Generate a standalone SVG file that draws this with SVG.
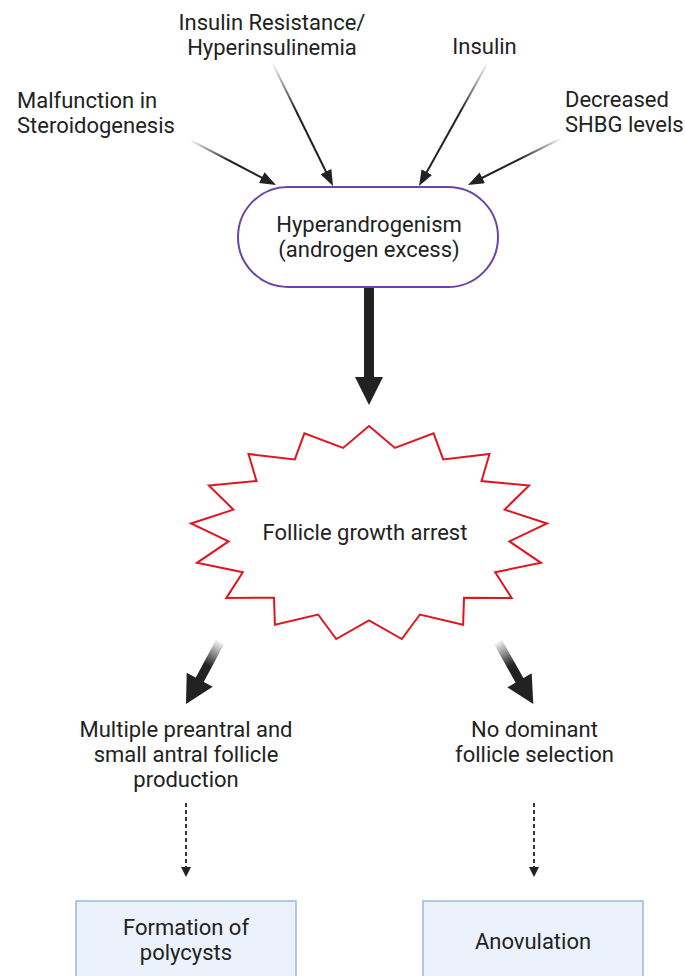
<svg xmlns="http://www.w3.org/2000/svg" width="685" height="976" viewBox="0 0 685 976">
<style>
text{font-family:Roboto,"Liberation Sans",Arial,sans-serif;font-size:22px;fill:#222}
.c{text-anchor:middle}
.thin{stroke-width:2;fill:none}
.head{fill:#222}
</style>
<defs>
<marker id="ah" markerUnits="userSpaceOnUse" viewBox="0 0 16 12" markerWidth="16" markerHeight="12" refX="6" refY="6" orient="auto"><path d="M0,0 L16,6 L0,12 z" fill="#222"/></marker>
<marker id="ahs" markerUnits="userSpaceOnUse" viewBox="0 0 10 10" markerWidth="10" markerHeight="10" refX="3" refY="5" orient="auto"><path d="M0,0 L10,5 L0,10 z" fill="#222"/></marker>
<linearGradient id="g1" gradientUnits="userSpaceOnUse" x1="190" y1="140" x2="276" y2="185"><stop offset="0" stop-color="#222" stop-opacity="0"/><stop offset="0.45" stop-color="#222"/></linearGradient>
<linearGradient id="g2" gradientUnits="userSpaceOnUse" x1="272" y1="62" x2="333" y2="186"><stop offset="0" stop-color="#222" stop-opacity="0"/><stop offset="0.4" stop-color="#222"/></linearGradient>
<linearGradient id="g3" gradientUnits="userSpaceOnUse" x1="488" y1="62" x2="419" y2="186"><stop offset="0" stop-color="#222" stop-opacity="0"/><stop offset="0.4" stop-color="#222"/></linearGradient>
<linearGradient id="g4" gradientUnits="userSpaceOnUse" x1="562" y1="138" x2="468" y2="185"><stop offset="0" stop-color="#222" stop-opacity="0"/><stop offset="0.45" stop-color="#222"/></linearGradient>
<linearGradient id="g5" gradientUnits="userSpaceOnUse" x1="220" y1="642" x2="199" y2="681"><stop offset="0" stop-color="#222" stop-opacity="0.05"/><stop offset="0.6" stop-color="#222"/></linearGradient>
<linearGradient id="g6" gradientUnits="userSpaceOnUse" x1="498" y1="642" x2="520" y2="681"><stop offset="0" stop-color="#222" stop-opacity="0.05"/><stop offset="0.6" stop-color="#222"/></linearGradient>
</defs>

<g id="connectors">
<line x1="190" y1="140" x2="267.1" y2="180.4" stroke="url(#g1)" class="thin" marker-end="url(#ah)"/>
<line x1="272" y1="62" x2="328.6" y2="177" stroke="url(#g2)" class="thin" marker-end="url(#ah)"/>
<line x1="488" y1="62" x2="423.9" y2="177.3" stroke="url(#g3)" class="thin" marker-end="url(#ah)"/>
<line x1="562" y1="138" x2="476.9" y2="180.5" stroke="url(#g4)" class="thin" marker-end="url(#ah)"/>
<rect x="364" y="286" width="10" height="93" fill="#222"/>
<polygon class="head" points="355,377 383,377 369,405"/>
<line x1="220" y1="642" x2="198" y2="683" stroke="url(#g5)" stroke-width="9"/>
<polygon class="head" points="186,704 186.7,672.7 212.7,686.7"/>
<line x1="498" y1="642" x2="521" y2="683" stroke="url(#g6)" stroke-width="9"/>
<polygon class="head" points="533.3,704 507.3,687.3 531.7,673.3"/>
<line x1="186" y1="803" x2="186" y2="870" stroke="#222" stroke-width="1.8" stroke-dasharray="4 3" marker-end="url(#ahs)"/>
<line x1="534" y1="803" x2="534" y2="870" stroke="#222" stroke-width="1.8" stroke-dasharray="4 3" marker-end="url(#ahs)"/>
</g>

<g id="label-malfunction"><text x="17" y="108">Malfunction in</text><text x="17" y="132.5">Steroidogenesis</text></g>
<g id="label-insulin-resistance"><text class="c" x="272" y="30">Insulin Resistance/</text><text class="c" x="272" y="55">Hyperinsulinemia</text></g>
<g id="label-insulin"><text class="c" x="484.5" y="54">Insulin</text></g>
<g id="label-shbg"><text x="565" y="106.5">Decreased</text><text x="565" y="131.5">SHBG levels</text></g>

<g id="node-hyperandrogenism">
<rect x="238" y="187" width="260" height="100" rx="50" fill="#fff" stroke="#6b45a3" stroke-width="2"/>
<text class="c" x="369" y="232">Hyperandrogenism</text>
<text class="c" x="369" y="257">(androgen excess)</text>
</g>

<g id="node-follicle-arrest">
<polygon fill="#fff" stroke="#e0161e" stroke-width="2" stroke-linejoin="miter" points="369,426 394.9,447.9 433.6,433.3 443.2,459.4 489.5,454 481.5,481 529.1,485.5 504.6,509.6 547,523.5 509.4,541.4 541,562.8 495.2,572.2 511.7,598.1 464,597.7 463.1,624.7 419.9,614.5 401.8,639 369,620.4 336.2,639 318.1,614.5 274.9,624.7 274,597.7 226.3,598.1 242.8,572.2 197,562.8 228.6,541.4 191,523.5 233.4,509.6 208.9,485.5 256.5,481 248.5,454 294.8,459.4 304.4,433.3 343.1,447.9"/>
<text class="c" x="365" y="540">Follicle growth arrest</text>
</g>

<g id="node-multiple"><text class="c" x="186" y="737">Multiple preantral and</text><text class="c" x="186" y="762">small antral follicle</text><text class="c" x="186" y="787">production</text></g>
<g id="node-no-dominant"><text class="c" x="534.5" y="737">No dominant</text><text class="c" x="534.5" y="762">follicle selection</text></g>

<g id="node-polycysts">
<rect x="76" y="901" width="220" height="95" fill="#ecf2fb" stroke="#9db6dc" stroke-width="1.5"/>
<text class="c" x="186" y="935">Formation of</text>
<text class="c" x="186" y="960">polycysts</text>
</g>
<g id="node-anovulation">
<rect x="423" y="901" width="220" height="95" fill="#ecf2fb" stroke="#9db6dc" stroke-width="1.5"/>
<text class="c" x="533" y="949">Anovulation</text>
</g>
</svg>
